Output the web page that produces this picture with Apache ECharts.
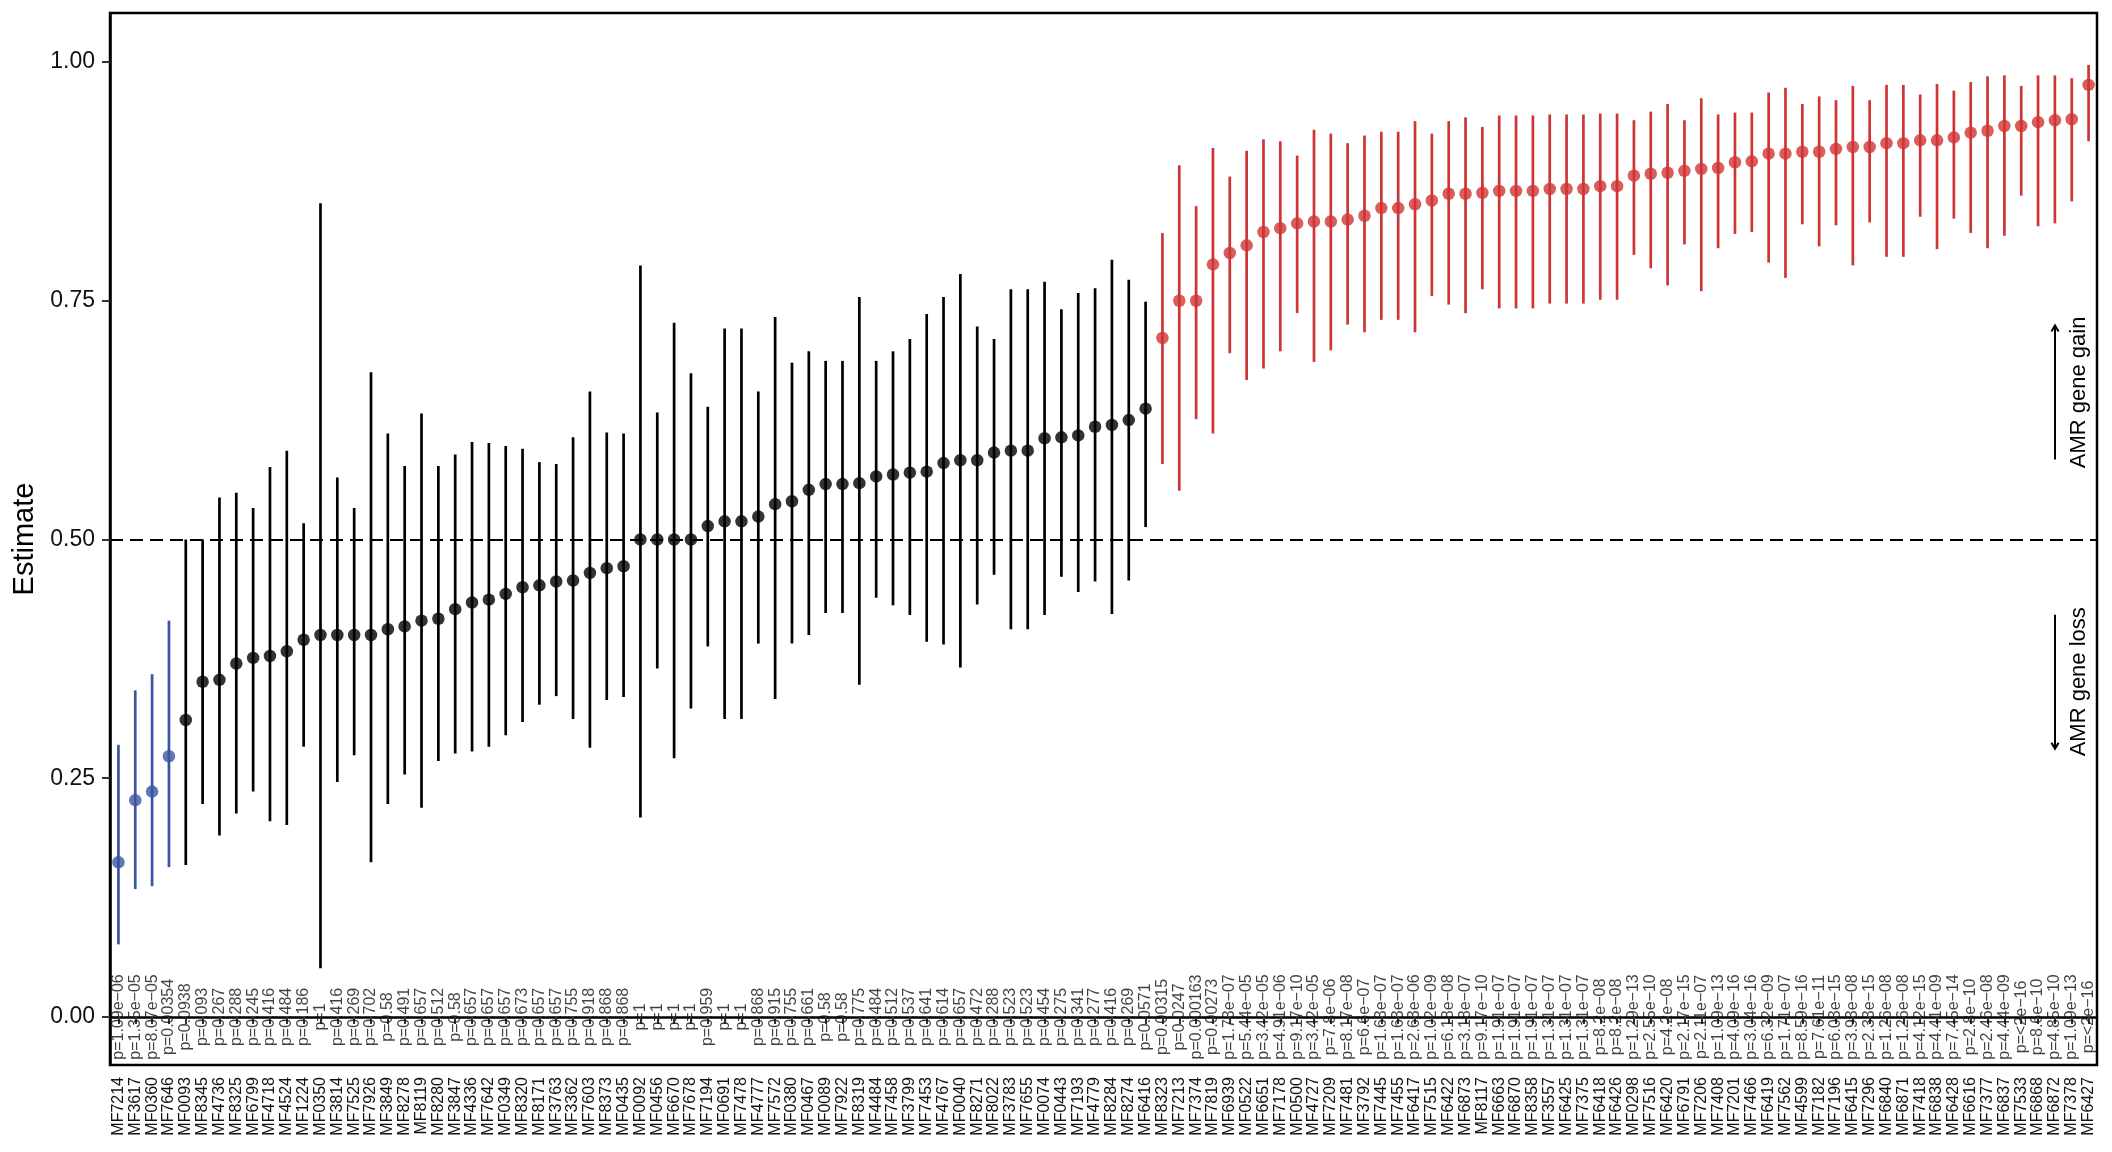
<!DOCTYPE html>
<html>
<head>
<meta charset="utf-8">
<script src="https://cdn.jsdelivr.net/npm/echarts@6/dist/echarts.min.js"></script>
<style>
html,body{margin:0;padding:0;background:#fff;}
#chart{width:2112px;height:1152px;}
</style>
</head>
<body>
<div id="chart"></div>
<script>
const categories = ["MF7214","MF3617","MF0360","MF7646","MF0093","MF8345","MF4736","MF8325","MF6799","MF4718","MF4524","MF1224","MF0350","MF3814","MF7525","MF7926","MF3849","MF8278","MF8119","MF8280","MF3847","MF4336","MF7642","MF0349","MF8320","MF8171","MF3763","MF3362","MF7603","MF8373","MF0435","MF0092","MF0456","MF6670","MF7678","MF7194","MF0691","MF7478","MF4777","MF7572","MF0380","MF0467","MF0089","MF7922","MF8319","MF4484","MF7458","MF3799","MF7453","MF4767","MF0040","MF8271","MF8022","MF3783","MF7655","MF0074","MF0443","MF7193","MF4779","MF8284","MF8274","MF6416","MF8323","MF7213","MF7374","MF7819","MF6939","MF0522","MF6651","MF7178","MF0500","MF4727","MF7209","MF7481","MF3792","MF7445","MF7455","MF6417","MF7515","MF6422","MF6873","MF8117","MF6663","MF6870","MF8358","MF3557","MF6425","MF7375","MF6418","MF6426","MF0298","MF7516","MF6420","MF6791","MF7206","MF7408","MF7201","MF7466","MF6419","MF7562","MF4599","MF7182","MF7196","MF6415","MF7296","MF6840","MF6871","MF7418","MF6838","MF6428","MF6616","MF7377","MF6837","MF7533","MF6868","MF6872","MF7378","MF6427"];

const estimates = [0.162,0.227,0.236,0.273,0.311,0.351,0.353,0.370,0.376,0.378,0.383,0.395,0.400,0.400,0.400,0.400,0.406,0.409,0.415,0.417,0.427,0.434,0.437,0.443,0.450,0.452,0.456,0.457,0.465,0.470,0.472,0.500,0.500,0.500,0.500,0.514,0.519,0.519,0.524,0.537,0.540,0.552,0.558,0.558,0.559,0.566,0.568,0.570,0.571,0.580,0.583,0.583,0.591,0.593,0.593,0.606,0.607,0.609,0.618,0.620,0.625,0.637,0.711,0.750,0.750,0.788,0.800,0.808,0.822,0.826,0.831,0.833,0.833,0.835,0.839,0.847,0.847,0.851,0.855,0.862,0.862,0.863,0.865,0.865,0.865,0.867,0.867,0.867,0.870,0.870,0.881,0.883,0.884,0.886,0.888,0.889,0.895,0.896,0.904,0.904,0.906,0.906,0.909,0.911,0.911,0.915,0.915,0.918,0.918,0.921,0.926,0.928,0.933,0.933,0.937,0.939,0.940,0.976];

const lower = [0.076,0.134,0.137,0.157,0.159,0.223,0.190,0.213,0.236,0.205,0.201,0.283,0.051,0.246,0.274,0.162,0.223,0.254,0.219,0.268,0.276,0.278,0.283,0.295,0.309,0.327,0.336,0.312,0.282,0.332,0.335,0.209,0.365,0.271,0.323,0.388,0.312,0.312,0.391,0.333,0.391,0.400,0.423,0.423,0.348,0.439,0.431,0.421,0.393,0.390,0.366,0.432,0.463,0.406,0.406,0.421,0.461,0.445,0.456,0.422,0.457,0.513,0.579,0.551,0.626,0.611,0.695,0.667,0.679,0.697,0.737,0.686,0.698,0.725,0.717,0.730,0.730,0.717,0.755,0.746,0.737,0.762,0.742,0.742,0.742,0.747,0.747,0.747,0.751,0.751,0.798,0.784,0.766,0.809,0.760,0.805,0.820,0.822,0.790,0.774,0.830,0.807,0.829,0.787,0.832,0.796,0.796,0.838,0.804,0.836,0.821,0.805,0.818,0.860,0.828,0.831,0.854,0.917];

const upper = [0.285,0.342,0.359,0.415,0.500,0.500,0.544,0.549,0.533,0.576,0.593,0.517,0.852,0.565,0.533,0.675,0.611,0.577,0.632,0.577,0.589,0.602,0.601,0.598,0.595,0.581,0.579,0.607,0.655,0.612,0.611,0.787,0.633,0.727,0.674,0.639,0.721,0.721,0.655,0.733,0.685,0.697,0.687,0.687,0.754,0.687,0.697,0.710,0.736,0.754,0.778,0.723,0.710,0.762,0.762,0.770,0.741,0.758,0.763,0.793,0.772,0.749,0.821,0.892,0.849,0.910,0.880,0.907,0.919,0.917,0.902,0.929,0.925,0.915,0.923,0.927,0.927,0.938,0.925,0.938,0.942,0.932,0.944,0.944,0.944,0.945,0.945,0.945,0.946,0.946,0.939,0.948,0.956,0.939,0.962,0.945,0.947,0.947,0.968,0.973,0.956,0.964,0.960,0.975,0.960,0.976,0.976,0.966,0.977,0.970,0.979,0.985,0.986,0.975,0.986,0.986,0.983,0.997];

const pLabels = ["1.09e−06","1.35e−05","8.07e−05","0.00354","0.0938","0.093","0.267","0.288","0.245","0.416","0.484","0.186","1","0.416","0.269","0.702","0.58","0.491","0.657","0.512","0.58","0.657","0.657","0.657","0.673","0.657","0.657","0.755","0.918","0.868","0.868","1","1","1","1","0.959","1","1","0.868","0.915","0.755","0.661","0.58","0.58","0.775","0.484","0.512","0.537","0.641","0.614","0.657","0.472","0.288","0.523","0.523","0.454","0.275","0.341","0.277","0.416","0.269","0.0571","0.00315","0.0247","0.000163","0.00273","1.73e−07","5.44e−05","3.42e−05","4.91e−06","9.17e−10","3.42e−05","7.8e−06","8.17e−08","6.6e−07","1.63e−07","1.63e−07","2.63e−06","1.02e−09","6.18e−08","3.18e−07","9.17e−10","1.91e−07","1.91e−07","1.91e−07","1.31e−07","1.31e−07","1.31e−07","8.2e−08","8.2e−08","1.29e−13","2.55e−10","4.2e−08","2.17e−15","2.11e−07","1.09e−13","4.09e−16","3.04e−16","6.32e−09","1.71e−07","8.59e−16","7.61e−11","6.03e−15","3.93e−08","2.33e−15","1.26e−08","1.26e−08","4.12e−15","4.41e−09","7.45e−14","2.8e−10","2.46e−08","4.44e−09","<2e−16","8.6e−10","4.85e−10","1.09e−13","<2e−16"];

const yTicks = [0, 0.25, 0.5, 0.75, 1.0];

const FONT = '"Liberation Sans", Arial, Helvetica, sans-serif';
const RED = '#CF3535', BLUE = '#3A55A2', BLACK = '#000000';

function pValue(s){ return parseFloat(s.replace('<','').replace('−','-')); }
function colorOf(i){
  const p = pValue(pLabels[i]);
  if (p < 0.05) return estimates[i] > 0.5 ? RED : BLUE;
  return BLACK;
}

const chart = echarts.init(document.getElementById('chart'), null, {renderer:'canvas'});

const option = {
  animation: false,
  backgroundColor: '#fff',
  textStyle: {fontFamily: FONT},
  grid: {left: 110, right: 15, top: 13, bottom: 87, show: true, borderColor: '#000', borderWidth: 2.5, backgroundColor: 'transparent'},
  xAxis: {
    type: 'category', data: categories, boundaryGap: true,
    axisLine: {show: true, lineStyle: {color: '#000', width: 2.5}},
    axisTick: {show: true, alignWithLabel: true, interval: 0, length: 7, lineStyle: {color: '#333', width: 2}},
    axisLabel: {interval: 0, rotate: 90, fontSize: 16, color: '#111', margin: 12, fontFamily: FONT},
    splitLine: {show: false}
  },
  yAxis: {
    type: 'value', min: -0.0503, max: 1.0513,
    name: 'Estimate', nameLocation: 'middle', nameGap: 68, nameRotate: 90,
    nameTextStyle: {fontSize: 29, color: '#000', fontFamily: FONT},
    axisLine: {show: true, lineStyle: {color: '#000', width: 2.5}},
    axisTick: {show: true, length: 8, customValues: yTicks, lineStyle: {color: '#333', width: 2}},
    axisLabel: {customValues: yTicks, formatter: v => Number(v).toFixed(2), fontSize: 23, color: '#111', margin: 15, fontFamily: FONT},
    splitLine: {show: false}
  },
  series: [
    {
      type: 'custom',
      data: categories.map((c, i) => [i, lower[i], upper[i]]),
      encode: {x: 0, y: [1, 2]},
      renderItem: function(params, api){
        const x = api.value(0);
        const lo = api.coord([x, api.value(1)]);
        const hi = api.coord([x, api.value(2)]);
        return {type: 'line', shape: {x1: lo[0], y1: lo[1], x2: hi[0], y2: hi[1]},
          style: {stroke: colorOf(params.dataIndex), lineWidth: 2.7}};
      },
      silent: true,
      z: 3,
      markLine: {
        silent: true, symbol: ['none','none'], label: {show: false},
        lineStyle: {color: '#000', width: 2, type: [13, 7]},
        data: [{yAxis: 0.5}]
      }
    },
    {
      type: 'scatter',
      data: estimates.map((v, i) => ({value: [i, v], itemStyle: {color: colorOf(i)}})),
      symbol: 'circle', symbolSize: 12.5, silent: true, z: 4
    },
    {
      type: 'scatter',
      data: categories.map((c, i) => [i, 0]),
      symbolSize: 1, itemStyle: {color: 'rgba(0,0,0,0)'}, silent: true, z: 5,
      label: {
        show: true, position: 'inside', rotate: 90, fontSize: 16, color: '#111', fontFamily: FONT,
        align: 'center', verticalAlign: 'middle',
        formatter: p => 'p=' + pLabels[p.dataIndex]
      },
      labelLayout: {hideOverlap: false}
    }
  ]
};
chart.setOption(option);

// direction annotations on the right margin of the panel
const yGain = chart.convertToPixel({yAxisIndex: 0}, 0.654);
const yLoss = chart.convertToPixel({yAxisIndex: 0}, 0.351);
const xArrow = 2055, xText = 2079, half = 67, head = 6;
chart.setOption({
  graphic: [
    {type: 'line', shape: {x1: xArrow, y1: yGain + half, x2: xArrow, y2: yGain - half}, style: {stroke: '#000', lineWidth: 2}},
    {type: 'polyline', shape: {points: [[xArrow - head*0.6, yGain - half + head], [xArrow, yGain - half], [xArrow + head*0.6, yGain - half + head]]}, style: {stroke: '#000', lineWidth: 2, fill: null}},
    {type: 'text', x: xText, y: yGain, rotation: Math.PI/2, style: {text: 'AMR gene gain', font: '22px ' + FONT, fill: '#000', align: 'center', verticalAlign: 'middle'}},
    {type: 'line', shape: {x1: xArrow, y1: yLoss - half, x2: xArrow, y2: yLoss + half}, style: {stroke: '#000', lineWidth: 2}},
    {type: 'polyline', shape: {points: [[xArrow - head*0.6, yLoss + half - head], [xArrow, yLoss + half], [xArrow + head*0.6, yLoss + half - head]]}, style: {stroke: '#000', lineWidth: 2, fill: null}},
    {type: 'text', x: xText, y: yLoss, rotation: Math.PI/2, style: {text: 'AMR gene loss', font: '22px ' + FONT, fill: '#000', align: 'center', verticalAlign: 'middle'}}
  ]
});
</script>
</body>
</html>
